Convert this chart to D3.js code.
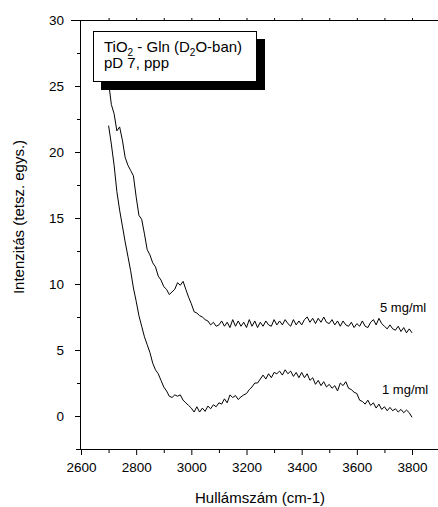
<!DOCTYPE html>
<html><head><meta charset="utf-8">
<script src="https://cdn.jsdelivr.net/npm/d3@7"></script>
<style>body{margin:0;background:#fff}svg{display:block}text{font-family:"Liberation Sans",Arial,sans-serif;fill:#000}</style>
</head><body><svg id="c" width="438" height="507"></svg>
<script>
const wavenumbers = [2700,2710,2720,2730,2740,2750,2760,2770,2780,2790,2800,2810,2820,2830,2840,2850,2860,2870,2880,2890,2900,2910,2920,2930,2940,2950,2960,2970,2980,2990,3000,3010,3020,3030,3040,3050,3060,3070,3080,3090,3100,3110,3120,3130,3140,3150,3160,3170,3180,3190,3200,3210,3220,3230,3240,3250,3260,3270,3280,3290,3300,3310,3320,3330,3340,3350,3360,3370,3380,3390,3400,3410,3420,3430,3440,3450,3460,3470,3480,3490,3500,3510,3520,3530,3540,3550,3560,3570,3580,3590,3600,3610,3620,3630,3640,3650,3660,3670,3680,3690,3700,3710,3720,3730,3740,3750,3760,3770,3780,3790,3800];
const series5 = [25.3,23.6,22.9,21.6,21.9,20.9,19.6,19.0,18.6,18.2,16.6,15.2,14.9,13.8,12.6,12.2,11.6,11.3,10.6,10.3,9.8,9.6,9.2,9.4,9.6,10.1,9.9,10.2,9.6,9.0,8.5,7.9,7.8,7.6,7.5,7.3,7.2,6.9,7.1,6.8,
  6.9,7.2,6.8,7.1,6.7,7.3,6.8,7.2,6.8,7.1,6.7,
  7.3,6.8,7.2,6.7,7.1,6.8,7.2,6.9,6.8,7.3,
  6.9,7.2,6.9,7.3,7.0,6.8,7.3,6.9,7.2,6.9,
  7.3,7.5,7.1,7.4,7.0,7.4,7.1,7.5,7.1,7.0,
  7.3,6.9,7.2,6.8,7.2,6.9,6.8,7.1,6.7,7.0,
  6.8,7.2,6.8,6.7,7.1,7.3,6.9,7.4,7.0,6.8,
  6.6,6.9,6.6,6.5,6.8,6.4,6.7,6.3,6.6,6.3];
const series1 = [22.0,20.6,19.0,17.0,15.6,14.4,13.2,12.1,11.0,9.7,8.7,7.6,6.8,6.0,5.4,4.8,4.0,3.5,3.2,2.7,2.2,1.9,1.5,1.4,1.6,1.5,1.6,1.2,1.0,0.8,
  0.6,0.3,0.7,0.3,0.6,0.35,0.75,0.55,0.85,0.7,1.0,
  0.9,1.3,1.0,1.6,1.4,1.55,1.25,1.45,1.6,1.7,
  2.0,2.2,2.5,2.5,2.8,3.1,2.8,3.2,2.9,3.3,
  3.2,3.4,3.1,3.5,3.2,3.4,3.0,3.3,2.9,3.3,
  2.9,3.2,2.7,2.9,2.4,2.7,2.3,2.6,2.2,2.4,
  2.1,2.3,1.9,2.5,2.3,2.6,2.1,2.0,1.8,1.7,
  1.2,1.1,0.9,1.2,0.8,1.0,0.6,0.9,0.5,0.7,
  0.4,0.65,0.4,0.55,0.3,0.5,0.25,0.45,0.25,-0.1];
const seriesLabels = ["5 mg/ml","1 mg/ml"];
const xTicks = [2600,2800,3000,3200,3400,3600,3800];
const yTicks = [0,5,10,15,20,25,30];
const xTitle = "Hullámszám (cm-1)";
const yTitle = "Intenzitás (tetsz. egys.)";

const svg = d3.select("#c");
const x = d3.scaleLinear().domain([2600,3900]).range([81,439.6]);
const y = d3.scaleLinear().domain([-2.5,30]).range([449,20]);

const g = svg.append("g");
const xAx = g.append("g").attr("transform","translate(0,449)")
  .call(d3.axisBottom(x).tickValues(xTicks).tickFormat(d3.format("d")).tickSize(6).tickPadding(7));
g.append("g").attr("transform","translate(0,449)")
  .call(d3.axisBottom(x).tickValues([2700,2900,3100,3300,3500,3700]).tickFormat("").tickSize(4))
  .select(".domain").remove();
const yAx = g.append("g").attr("transform","translate(81,0)")
  .call(d3.axisLeft(y).tickValues(yTicks).tickSize(6).tickPadding(11));
g.append("g").attr("transform","translate(81,0)")
  .call(d3.axisLeft(y).tickValues([-2.5,2.5,7.5,12.5,17.5,22.5,27.5]).tickFormat("").tickSize(4))
  .select(".domain").remove();
g.append("g").attr("transform","translate(0,20)")
  .call(d3.axisTop(x).tickValues(d3.range(2700,3900,100)).tickFormat("").tickSize(2))
  .select(".domain").attr("d","M71,0.5H440");
g.selectAll(".domain").attr("stroke","#000");
g.selectAll(".tick line").attr("stroke","#000");
g.selectAll(".tick text").attr("font-size","13.5px").attr("fill","#000").attr("font-family","Liberation Sans, Arial, sans-serif");
xAx.select(".domain").attr("d","M76,0.5H440");
yAx.select(".domain").attr("d","M-0.5,449V20");

const line = d3.line().x((d,i)=>x(wavenumbers[i])).y(d=>y(d));
[series5, series1].forEach(s=>{
  g.append("path").datum(s).attr("d",line).attr("fill","none").attr("stroke","#000").attr("stroke-width",1);
});
g.append("text").attr("x",380).attr("y",y(7.85)).attr("font-size","13px").text(seriesLabels[0]);
g.append("text").attr("x",382).attr("y",y(1.65)).attr("font-size","13px").text(seriesLabels[1]);

svg.append("text").attr("x",260).attr("y",503).attr("text-anchor","middle").attr("font-size","15px").text(xTitle);
svg.append("text").attr("transform","translate(24,217) rotate(-90)").attr("text-anchor","middle").attr("font-size","15px").text(yTitle);

svg.append("rect").attr("x",101).attr("y",39).attr("width",164).attr("height",51).attr("fill","#000");
svg.append("rect").attr("x",93.5).attr("y",31.5).attr("width",163).attr("height",50).attr("fill","#fff").attr("stroke","#000");
const t1 = svg.append("text").attr("x",104).attr("y",52).attr("font-size","15px");
t1.append("tspan").text("TiO");
t1.append("tspan").attr("font-size","10px").attr("dy",4).text("2");
t1.append("tspan").attr("dy",-4).text(" - Gln (D");
t1.append("tspan").attr("font-size","10px").attr("dy",4).text("2");
t1.append("tspan").attr("dy",-4).text("O-ban)");
svg.append("text").attr("x",104).attr("y",68).attr("font-size","15px").text("pD 7, ppp");
</script></body></html>
